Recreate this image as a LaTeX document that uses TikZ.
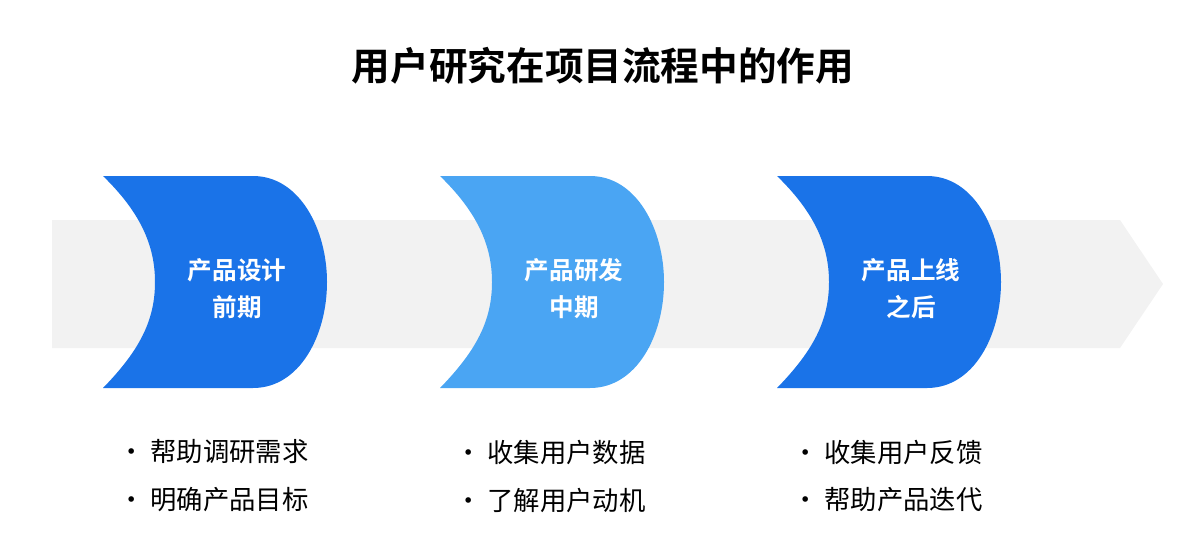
\documentclass[tikz,border=0pt]{standalone}
\usepackage{fontspec}
\newfontfamily\cjk{Noto Sans CJK SC}
\newfontfamily\cjkbold{Noto Sans CJK SC Bold}
\definecolor{stageA}{HTML}{1A73E8}
\definecolor{stageB}{HTML}{4AA5F3}
\definecolor{band}{HTML}{F2F2F2}
\begin{document}
\begin{tikzpicture}[x=0.02cm, y=-0.02cm,
		stageText/.style={text=white, font=\cjkbold\fontsize{14}{17}\selectfont, align=center},
		bullet/.style={anchor=west, font=\cjk\fontsize{15}{18}\selectfont},
		title/.style={font=\cjkbold\fontsize{22}{26}\selectfont}]
		
		\useasboundingbox (0,0) rectangle (1200,555);
		
		\fill [band] (52,220) -- (1120,220) -- (1163,284) -- (1120,348) -- (52,348) -- cycle;
		
		\node [title] (head) at (603,66) {用户研究在项目流程中的作用};
		
		\foreach \dx/\col [count=\i] in {0/stageA, 337/stageB, 674/stageA}
		{\fill [\col, xshift=\dx*0.02cm] (103,176) -- (253,176)
			.. controls (300,176) and (327,230) .. (327,282)
			.. controls (327,335) and (300,388) .. (253,388) -- (103,388)
			.. controls (140,350) and (155,320) .. (155,282)
			.. controls (155,245) and (140,212) .. (103,176);}
		
		\node [stageText] (s1) at (237,289) {产品设计\\[4pt]前期};
		\node [stageText] (s2) at (574,289) {产品研发\\[4pt]中期};
		\node [stageText] (s3) at (911,289) {产品上线\\[4pt]之后};
		
		\node [bullet] (b1a) at (112,452) {• 帮助调研需求};
		\node [bullet] (b1b) at (112,500) {• 明确产品目标};
		\node [bullet] (b2a) at (449,452) {• 收集用户数据};
		\node [bullet] (b2b) at (449,500) {• 了解用户动机};
		\node [bullet] (b3a) at (786,452) {• 收集用户反馈};
		\node [bullet] (b3b) at (786,500) {• 帮助产品迭代};
	\end{tikzpicture}
\end{document}
